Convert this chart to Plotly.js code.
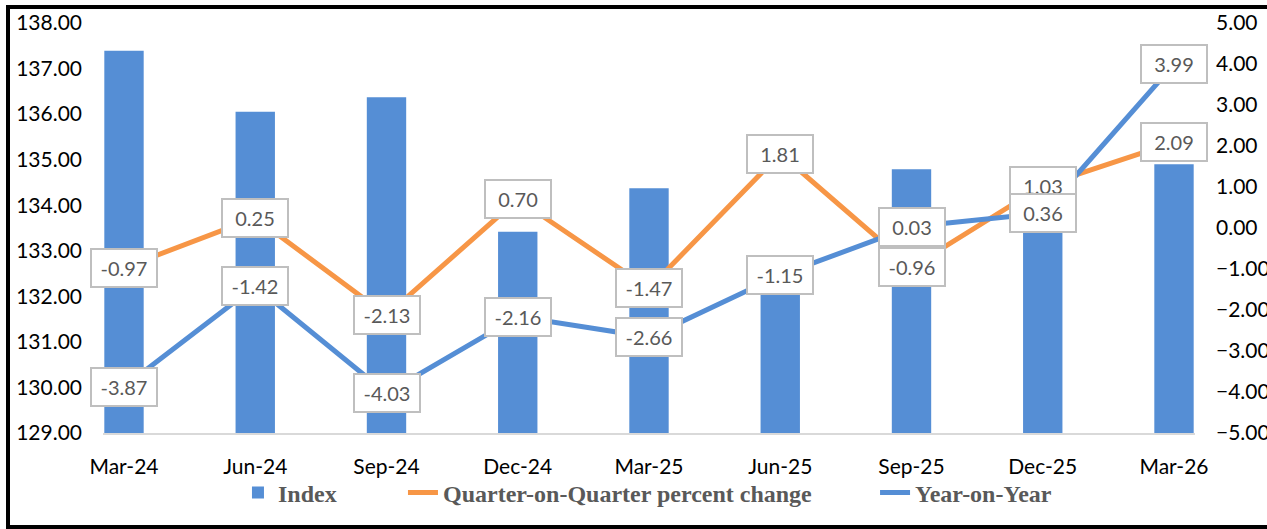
<!DOCTYPE html>
<html>
<head>
<meta charset="utf-8">
<script src="https://cdn.plot.ly/plotly-3.0.1.min.js"></script>
<style>
  html, body { margin: 0; padding: 0; background: #fff; overflow: hidden; }
  #chart { position: absolute; left: 0; top: 0; width: 1267px; height: 529px; }
  #frame { position: absolute; left: 6px; top: 5px; width: 1300px; height: 516px;
           border: 4px solid #000; pointer-events: none; }
</style>
</head>
<body>
<div id="chart"></div>
<div id="frame"></div>
<script>
const categories = ["Mar-24","Jun-24","Sep-24","Dec-24","Mar-25","Jun-25","Sep-25","Dec-25","Mar-26"];
const indexValues = [137.39, 136.05, 136.37, 133.42, 134.37, 132.39, 134.79, 133.50, 134.90];
const qoqValues = [-0.97, 0.25, -2.13, 0.70, -1.47, 1.81, -0.96, 1.03, 2.09];
const yoyValues = [-3.87, -1.42, -4.03, -2.16, -2.66, -1.15, 0.03, 0.36, 3.99];

const tickFont = {family: "Lato, 'Open Sans', sans-serif", size: 21, color: "#000000"};
const labelFont = {family: "Lato, 'Open Sans', sans-serif", size: 20, color: "#595959"};
const legendFont = {family: "'Liberation Serif', 'DejaVu Serif', serif", size: 24,
                    color: "#595959", weight: "bold"};

const traces = [
  {type: "bar", name: "Index", x: categories, y: indexValues, width: 0.3,
   marker: {color: "#558ed5"}, yaxis: "y", legend: "legend"},
  {type: "scatter", mode: "lines", name: "Quarter-on-Quarter percent change",
   x: categories, y: qoqValues, yaxis: "y2", line: {color: "#f79646", width: 5}, legend: "legend2"},
  {type: "scatter", mode: "lines", name: "Year-on-Year",
   x: categories, y: yoyValues, yaxis: "y2", line: {color: "#558ed5", width: 5}, legend: "legend3"}
];

function labelAnn(x, v) {
  return {x: x, y: v, xref: "x", yref: "y2", text: v.toFixed(2), showarrow: false,
          font: labelFont, bgcolor: "#ffffff", bordercolor: "#bfbfbf", borderwidth: 2,
          borderpad: 5, width: 54, height: 26};
}
const annotations = [];
categories.forEach((c, i) => {
  annotations.push(labelAnn(c, qoqValues[i]));
  annotations.push(labelAnn(c, yoyValues[i]));
});

function legendAt(x) {
  return {orientation: "h", x: x, xanchor: "left", y: -0.146, yanchor: "middle",
          font: legendFont, bgcolor: "rgba(0,0,0,0)"};
}

const layout = {
  width: 1267, height: 529,
  margin: {l: 103, r: 72, t: 23, b: 96},
  paper_bgcolor: "#ffffff", plot_bgcolor: "#ffffff",
  showlegend: true,
  xaxis: {type: "category", range: [-0.16, 8.16], showgrid: false, zeroline: false,
          showline: true, linecolor: "#d9d9d9", linewidth: 2, ticks: "",
          tickfont: tickFont, ticklabelstandoff: 14, fixedrange: true},
  yaxis: {range: [129, 138], dtick: 1, tickformat: ".2f", showgrid: false, zeroline: false,
          showline: false, ticks: "", tickfont: tickFont, ticklabelstandoff: 20},
  yaxis2: {range: [-5, 5], dtick: 1, tickformat: ".2f", overlaying: "y", side: "right",
           showgrid: false, zeroline: false, showline: false, ticks: "",
           tickfont: tickFont, ticklabelstandoff: 20},
  legend: legendAt(0.1236),
  legend2: legendAt(0.2747),
  legend3: legendAt(0.7070),
  annotations: annotations
};

Plotly.newPlot("chart", traces, layout, {displayModeBar: false, staticPlot: true});
</script>
</body>
</html>
